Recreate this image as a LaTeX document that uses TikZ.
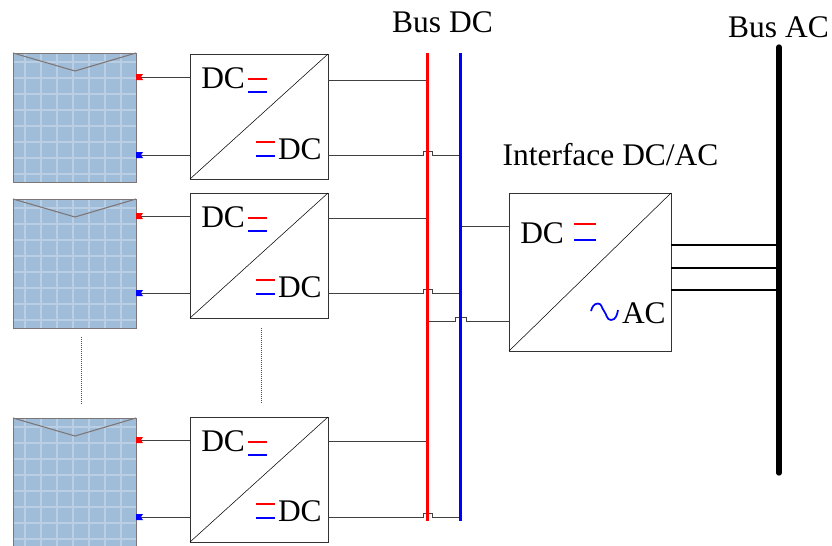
\documentclass[tikz,border=0pt]{standalone}
\usepackage{fontspec}
\setmainfont{Liberation Serif}
\usetikzlibrary{positioning}
\colorlet{background}{white}
\definecolor{panelColor}{RGB}{159,189,217}
\definecolor{gridColor}{RGB}{186,207,228}
\definecolor{panelEdge}{RGB}{125,118,118}
\colorlet{penColor}{red}
\colorlet{penColor2}{blue}
\tikzset{
  panel/.style={draw=panelEdge, fill=panelColor, minimum width=92.25pt, minimum height=96.75pt, inner sep=0pt, outer sep=0pt},
  conv/.style={draw=black!80, line width=.75pt, minimum width=103.5pt, minimum height=93.75pt, inner sep=0pt, outer sep=0pt},
  inter/.style={draw=black!80, line width=.75pt, minimum width=121.5pt, minimum height=118.5pt, inner sep=0pt, outer sep=0pt},
  lbl/.style={font=\fontsize{23.6}{25}\selectfont, inner sep=0pt},
  wire/.style={draw=black!75, line width=.7pt}
}
\begin{document}
\begin{tikzpicture}[x=.75pt,y=-.75pt]
\useasboundingbox (0,0) rectangle (832,546);
% panels and converters
\foreach \n/\pt/\ct/\ya/\yb/\yc in {1/53/54/77/155/80, 2/199/193/216/293/218, 3/418/417/440/517/441}{
  \node[panel, anchor=north west] (panel\n) at (13,\pt) {};
  \foreach \i in {0,...,6}
    \draw[gridColor, line width=1.1pt] (25+16*\i,\pt) -- (25+16*\i,\pt+129);
  \foreach \i in {0,...,7}
    \draw[gridColor, line width=1.1pt] (13,\pt+9+16*\i) -- (136,\pt+9+16*\i);
  \draw[panelEdge] (13,\pt) rectangle (136,\pt+129);
  \draw[panelEdge, line width=.8pt] (13,\pt) -- (75,\pt+18) -- (136,\pt);
  \node[conv, anchor=north west] (conv\n) at (190,\ct) {};
  \draw[thin] (conv\n.south west) -- (conv\n.north east);
  % terminals
  \fill[penColor] (136,\ya-3) -- (143,\ya-3) -- (141,\ya) -- (143,\ya+3) -- (136,\ya+3) -- cycle;
  \fill[penColor2] (136,\yb-3) -- (143,\yb-3) -- (141,\yb) -- (143,\yb+3) -- (136,\yb+3) -- cycle;
  \coordinate (pa\n) at (141,\ya);
  \coordinate (pb\n) at (141,\yb);
  \draw[wire] (pa\n) -- (conv\n.west |- pa\n);
  \draw[wire] (pb\n) -- (conv\n.west |- pb\n);
  % to the buses
  \coordinate (busa\n) at (427,\yc);
  \coordinate (busb\n) at (460,\yb);
  \draw[wire] (conv\n.east |- busa\n) -- (busa\n);
  \draw[wire] (conv\n.east |- busb\n) -- (423,\yb) -- ++(0,-4) -- ++(9,0) -- ++(0,4) -- (busb\n);
  % labels
  \node[lbl, anchor=west] (dca\n) at (201,\ct+24) {DC};
  \node[lbl, anchor=east] (dcb\n) at (322,\yb-6) {DC};
  \draw[penColor, line width=.9pt] (248,\ct+25) -- ++(19,0);
  \draw[penColor2, line width=.9pt] (248,\ct+38) -- ++(19,0);
  \draw[penColor, line width=.9pt] (256,\yb-13) -- ++(19,0);
  \draw[penColor2, line width=.9pt] (256,\yb+1) -- ++(19,0);
}
% interface
\node[inter, anchor=north west] (conv4) at (509,193) {};
\draw[thin] (conv4.south west) -- (conv4.north east);
\node[lbl] (title4) at (610.5,155) {Interface DC/AC};
\node[lbl, anchor=west] (dc4) at (520,233) {DC};
\node[lbl, anchor=east] (ac4) at (666,313) {AC};
\draw[penColor, line width=.9pt] (574,224) -- ++(22,0);
\draw[penColor2, line width=.9pt] (574,240) -- ++(22,0);
\draw[penColor2, line width=1.3pt] (591,311) to[out=75,in=180] (598,303.5) to[out=0,in=130] (604,311) to[out=-50,in=180] (611,320) to[out=0,in=-100] (618,310);
% interface to the buses
\coordinate (busb4) at (460,226);
\coordinate (busa4) at (427,321);
\draw[wire] (busb4) -- (conv4.west |- busb4);
\draw[wire] (busa4) -- (455,321) -- ++(0,-4) -- ++(11,0) -- ++(0,4) -- (conv4.west |- busa4);
% bus AC side
\foreach \y/\n in {245/1,268/2,290/3}{
  \coordinate (ac\n) at (779,\y);
  \draw[black, line width=1.1pt] (conv4.east |- ac\n) -- (ac\n);
}
% buses
\coordinate (dcpt) at (427.5,53);
\coordinate (dcpb) at (427.5,521);
\coordinate (dcnt) at (460.5,53);
\coordinate (dcnb) at (460.5,521);
\coordinate (actop) at (779,47);
\coordinate (acbot) at (779,473);
\draw[penColor, line width=2.4pt] (dcpt) -- (dcpb);
\draw[penColor2, line width=2.4pt] (dcnt) -- (dcnb);
\draw[black, line width=4pt, line cap=round] (actop) -- (acbot);
\node[lbl] (busdc) at (442.5,22) {Bus DC};
\node[lbl] (busac) at (778.5,27) {Bus AC};
% dots between the rows
\coordinate (dota) at (81,337);
\coordinate (dotb) at (81,405);
\coordinate (dotc) at (261,328);
\coordinate (dotd) at (261,404);
\draw[black!70, densely dotted, line width=.5pt] (dota) -- (dotb);
\draw[black!70, densely dotted, line width=.5pt] (dotc) -- (dotd);
\end{tikzpicture}
\end{document}
